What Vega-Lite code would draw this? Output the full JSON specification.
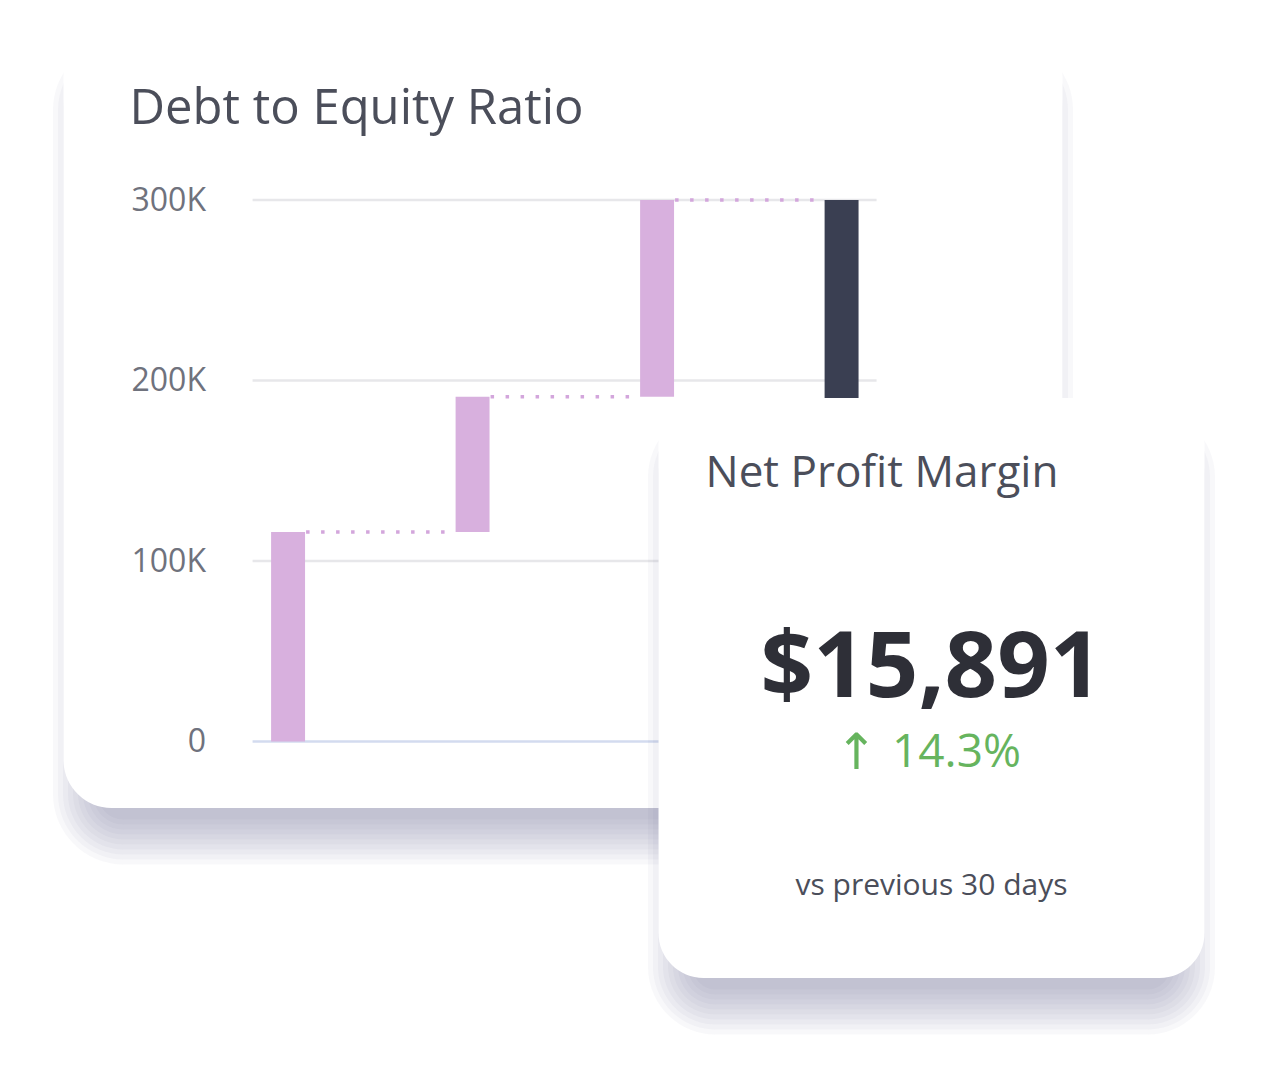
{
  "$schema": "https://vega.github.io/schema/vega-lite/v6.json",
  "background": "white",
  "padding": {"left": 52.5, "top": 28, "right": 0, "bottom": 0},
  "config": {
    "view": {"stroke": null},
    "font": "Open Sans",
    "title": {"fontWeight": "normal", "anchor": "start", "frame": "group", "offset": 0, "baseline": "alphabetic", "color": "#4b4e5a"}
  },
  "bounds": "flush",
  "spacing": 0,
  "vconcat": [
    {
      "width": 999,
      "height": 780,
      "title": {"text": "Debt to Equity Ratio", "fontSize": 49, "dx": 66, "dy": 110},
      "data": {
        "values": [
          {"step": "Equity", "start": 0, "end": 116000, "next": "Short-term debt", "kind": "change"},
          {"step": "Short-term debt", "start": 116000, "end": 191000, "next": "Long-term debt", "kind": "change"},
          {"step": "Long-term debt", "start": 191000, "end": 300000, "next": "Total", "kind": "change"},
          {"step": "Total", "start": 0, "end": 300000, "next": null, "kind": "total"}
        ]
      },
      "layer": [
        {"data": {"values": [{}]}, "mark": {"type": "rect", "fill": "#5d6290", "opacity": 0.045, "cornerRadius": 25.5, "xOffset": -34.5, "x2Offset": 34.5, "yOffset": 56.5, "y2Offset": 11.5},
         "encoding": {"x": {"value": "width"}, "x2": {"value": 0}, "y": {"value": 0}, "y2": {"value": "height"}}},
        {"data": {"values": [{}]}, "mark": {"type": "rect", "fill": "#5d6290", "opacity": 0.045, "cornerRadius": 30.5, "xOffset": -29.5, "x2Offset": 29.5, "yOffset": 51.5, "y2Offset": 16.5},
         "encoding": {"x": {"value": "width"}, "x2": {"value": 0}, "y": {"value": 0}, "y2": {"value": "height"}}},
        {"data": {"values": [{}]}, "mark": {"type": "rect", "fill": "#5d6290", "opacity": 0.045, "cornerRadius": 35.5, "xOffset": -24.5, "x2Offset": 24.5, "yOffset": 46.5, "y2Offset": 21.5},
         "encoding": {"x": {"value": "width"}, "x2": {"value": 0}, "y": {"value": 0}, "y2": {"value": "height"}}},
        {"data": {"values": [{}]}, "mark": {"type": "rect", "fill": "#5d6290", "opacity": 0.045, "cornerRadius": 40.5, "xOffset": -19.5, "x2Offset": 19.5, "yOffset": 41.5, "y2Offset": 26.5},
         "encoding": {"x": {"value": "width"}, "x2": {"value": 0}, "y": {"value": 0}, "y2": {"value": "height"}}},
        {"data": {"values": [{}]}, "mark": {"type": "rect", "fill": "#5d6290", "opacity": 0.045, "cornerRadius": 45.5, "xOffset": -14.5, "x2Offset": 14.5, "yOffset": 36.5, "y2Offset": 31.5},
         "encoding": {"x": {"value": "width"}, "x2": {"value": 0}, "y": {"value": 0}, "y2": {"value": "height"}}},
        {"data": {"values": [{}]}, "mark": {"type": "rect", "fill": "#5d6290", "opacity": 0.045, "cornerRadius": 50.5, "xOffset": -9.5, "x2Offset": 9.5, "yOffset": 31.5, "y2Offset": 36.5},
         "encoding": {"x": {"value": "width"}, "x2": {"value": 0}, "y": {"value": 0}, "y2": {"value": "height"}}},
        {"data": {"values": [{}]}, "mark": {"type": "rect", "fill": "#5d6290", "opacity": 0.045, "cornerRadius": 55.5, "xOffset": -4.5, "x2Offset": 4.5, "yOffset": 26.5, "y2Offset": 41.5},
         "encoding": {"x": {"value": "width"}, "x2": {"value": 0}, "y": {"value": 0}, "y2": {"value": "height"}}},
        {"data": {"values": [{}]}, "mark": {"type": "rect", "fill": "#5d6290", "opacity": 0.045, "cornerRadius": 60.5, "xOffset": 0.5, "x2Offset": -0.5, "yOffset": 21.5, "y2Offset": 46.5},
         "encoding": {"x": {"value": "width"}, "x2": {"value": 0}, "y": {"value": 0}, "y2": {"value": "height"}}},
        {"data": {"values": [{}]}, "mark": {"type": "rect", "fill": "#5d6290", "opacity": 0.045, "cornerRadius": 65.5, "xOffset": 5.5, "x2Offset": -5.5, "yOffset": 16.5, "y2Offset": 51.5},
         "encoding": {"x": {"value": "width"}, "x2": {"value": 0}, "y": {"value": 0}, "y2": {"value": "height"}}},
        {"data": {"values": [{}]}, "mark": {"type": "rect", "fill": "#5d6290", "opacity": 0.045, "cornerRadius": 70.5, "xOffset": 10.5, "x2Offset": -10.5, "yOffset": 11.5, "y2Offset": 56.5},
         "encoding": {"x": {"value": "width"}, "x2": {"value": 0}, "y": {"value": 0}, "y2": {"value": "height"}}},
        {"data": {"values": [{}]}, "mark": {"type": "rect", "fill": "white", "cornerRadius": 48},
         "encoding": {"x": {"value": "width"}, "x2": {"value": 0}, "y": {"value": 0}, "y2": {"value": "height"}}},
        {
          "data": {"values": [{"tick": 0}, {"tick": 100000}, {"tick": 200000}, {"tick": 300000}]},
          "mark": {"type": "rule", "strokeWidth": 2.5, "xOffset": -35.5, "x2Offset": 35},
          "encoding": {
            "x": {
              "datum": "Equity",
              "type": "nominal",
              "scale": {"domain": ["Equity", "Short-term debt", "Long-term debt", "Total"], "paddingInner": 0, "paddingOuter": 0.7073, "align": 0.507},
              "axis": null
            },
            "x2": {"datum": "Total"},
            "y": {
              "field": "tick",
              "type": "quantitative",
              "scale": {"domain": [-36842, 395291], "nice": false, "zero": false},
              "axis": {
                "values": [0, 100000, 200000, 300000],
                "labelExpr": "datum.value === 0 ? '0' : (datum.value / 1000) + 'K'",
                "title": null,
                "domain": false,
                "ticks": false,
                "grid": false,
                "labelPadding": 0,
                "offset": -142,
                "labelFontSize": 32,
                "labelColor": "#6f727d",
                "zindex": 1
              }
            },
            "color": {"condition": {"test": "datum.tick === 0", "value": "#d3dbef"}, "value": "#e7e7ea"}
          }
        },
        {
          "mark": {"type": "bar", "width": {"band": 0.184}},
          "encoding": {
            "x": {"field": "step", "type": "nominal", "axis": null},
            "y": {"field": "start", "type": "quantitative", "title": null},
            "y2": {"field": "end"},
            "color": {
              "field": "kind",
              "type": "nominal",
              "scale": {"domain": ["change", "total"], "range": ["#d8b0de", "#3a3f52"]},
              "legend": null
            }
          }
        },
        {
          "transform": [{"filter": "datum.next != null"}],
          "mark": {"type": "rule", "color": "#d3a6dc", "strokeWidth": 3.5, "strokeDash": [3.5, 11.5], "xOffset": 18, "x2Offset": -17},
          "encoding": {
            "x": {"field": "step", "type": "nominal"},
            "x2": {"field": "next"},
            "y": {"field": "end", "type": "quantitative", "title": null}
          }
        }
      ]
    },
    {
      "spacing": 0,
      "bounds": "flush",
      "hconcat": [
        {"width": 595, "height": 10, "data": {"values": []}, "mark": "rect", "encoding": {}},
        {
          "width": 546,
          "height": 170,
          "title": {"text": "Net Profit Margin", "fontSize": 44, "dx": 47, "dy": 102},
          "data": {"values": [{"value": 15891, "trend": "↑", "change": 0.143, "period": "vs previous 30 days"}]},
          "layer": [
            {"mark": {"type": "rect", "fill": "#5d6290", "opacity": 0.045, "cornerRadius": 22.5, "xOffset": -34.5, "x2Offset": 34.5, "yOffset": -353.5, "y2Offset": 11.5},
             "encoding": {"x": {"value": "width"}, "x2": {"value": 0}, "y": {"value": 0}, "y2": {"value": "height"}}},
            {"mark": {"type": "rect", "fill": "#5d6290", "opacity": 0.045, "cornerRadius": 27.5, "xOffset": -29.5, "x2Offset": 29.5, "yOffset": -358.5, "y2Offset": 16.5},
             "encoding": {"x": {"value": "width"}, "x2": {"value": 0}, "y": {"value": 0}, "y2": {"value": "height"}}},
            {"mark": {"type": "rect", "fill": "#5d6290", "opacity": 0.045, "cornerRadius": 32.5, "xOffset": -24.5, "x2Offset": 24.5, "yOffset": -363.5, "y2Offset": 21.5},
             "encoding": {"x": {"value": "width"}, "x2": {"value": 0}, "y": {"value": 0}, "y2": {"value": "height"}}},
            {"mark": {"type": "rect", "fill": "#5d6290", "opacity": 0.045, "cornerRadius": 37.5, "xOffset": -19.5, "x2Offset": 19.5, "yOffset": -368.5, "y2Offset": 26.5},
             "encoding": {"x": {"value": "width"}, "x2": {"value": 0}, "y": {"value": 0}, "y2": {"value": "height"}}},
            {"mark": {"type": "rect", "fill": "#5d6290", "opacity": 0.045, "cornerRadius": 42.5, "xOffset": -14.5, "x2Offset": 14.5, "yOffset": -373.5, "y2Offset": 31.5},
             "encoding": {"x": {"value": "width"}, "x2": {"value": 0}, "y": {"value": 0}, "y2": {"value": "height"}}},
            {"mark": {"type": "rect", "fill": "#5d6290", "opacity": 0.045, "cornerRadius": 47.5, "xOffset": -9.5, "x2Offset": 9.5, "yOffset": -378.5, "y2Offset": 36.5},
             "encoding": {"x": {"value": "width"}, "x2": {"value": 0}, "y": {"value": 0}, "y2": {"value": "height"}}},
            {"mark": {"type": "rect", "fill": "#5d6290", "opacity": 0.045, "cornerRadius": 52.5, "xOffset": -4.5, "x2Offset": 4.5, "yOffset": -383.5, "y2Offset": 41.5},
             "encoding": {"x": {"value": "width"}, "x2": {"value": 0}, "y": {"value": 0}, "y2": {"value": "height"}}},
            {"mark": {"type": "rect", "fill": "#5d6290", "opacity": 0.045, "cornerRadius": 57.5, "xOffset": 0.5, "x2Offset": -0.5, "yOffset": -388.5, "y2Offset": 46.5},
             "encoding": {"x": {"value": "width"}, "x2": {"value": 0}, "y": {"value": 0}, "y2": {"value": "height"}}},
            {"mark": {"type": "rect", "fill": "#5d6290", "opacity": 0.045, "cornerRadius": 62.5, "xOffset": 5.5, "x2Offset": -5.5, "yOffset": -393.5, "y2Offset": 51.5},
             "encoding": {"x": {"value": "width"}, "x2": {"value": 0}, "y": {"value": 0}, "y2": {"value": "height"}}},
            {"mark": {"type": "rect", "fill": "#5d6290", "opacity": 0.045, "cornerRadius": 67.5, "xOffset": 10.5, "x2Offset": -10.5, "yOffset": -398.5, "y2Offset": 56.5},
             "encoding": {"x": {"value": "width"}, "x2": {"value": 0}, "y": {"value": 0}, "y2": {"value": "height"}}},
            {"mark": {"type": "rect", "fill": "white", "cornerRadius": 45, "yOffset": -410},
             "encoding": {"x": {"value": "width"}, "x2": {"value": 0}, "y": {"value": 0}, "y2": {"value": "height"}}},
            {
              "mark": {"type": "text", "fontSize": 92, "fontWeight": "bold", "color": "#2e2f37", "baseline": "alphabetic", "dy": -196},
              "encoding": {"text": {"field": "value", "type": "quantitative", "format": "$,"}}
            },
            {
              "mark": {"type": "text", "font": "DejaVu Sans", "fontSize": 50, "color": "#66b45e", "baseline": "alphabetic", "dx": -75, "dy": -124},
              "encoding": {"text": {"field": "trend", "type": "nominal"}}
            },
            {
              "mark": {"type": "text", "fontSize": 46, "color": "#66b45e", "baseline": "alphabetic", "dx": 25, "dy": -126},
              "encoding": {"text": {"field": "change", "type": "quantitative", "format": ".1%"}}
            },
            {
              "mark": {"type": "text", "fontSize": 30, "color": "#4b4e5a", "baseline": "alphabetic", "dy": 2},
              "encoding": {"text": {"field": "period", "type": "nominal"}}
            }
          ]
        }
      ]
    }
  ]
}
